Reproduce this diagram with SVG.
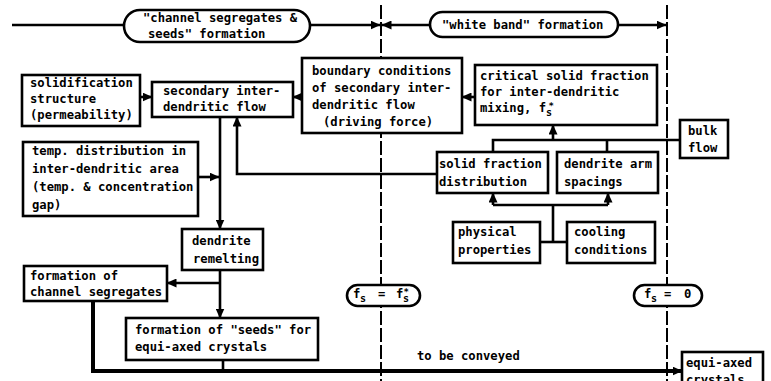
<svg xmlns="http://www.w3.org/2000/svg" width="771" height="381" viewBox="0 0 771 381">
<defs>
<marker id="arr" markerUnits="userSpaceOnUse" markerWidth="10" markerHeight="9" refX="9.5" refY="4.5" orient="auto"><path d="M0,0 L10,4.5 L0,9 z" fill="#000"/></marker>
</defs>
<style>
.box{fill:#fff;stroke:#000;stroke-width:2.6}
.t{font-family:"DejaVu Sans Mono","Liberation Mono",monospace;font-size:12.2px;font-weight:bold;fill:#000}
.sub{font-size:10px}
.star{font-size:9px}
.c{fill:none;stroke:#000;stroke-width:2.6}
.a{marker-end:url(#arr)}
.d{fill:none;stroke:#000;stroke-width:2;stroke-dasharray:14 3}
.thick{stroke-width:4}
</style>
<rect width="771" height="381" fill="#fff"/>
<g id="connectors">
<path class="d" d="M381,5 V381"/>
<path class="d" d="M667,5 V381"/>
<path class="c" d="M12,25 H124"/>
<path class="c a" d="M310,25 H380"/>
<path class="c a" d="M430,25 H382"/>
<path class="c a" d="M618,25 H666"/>
<path class="c a" d="M140,97 H152"/>
<path class="c a" d="M302,97 H293"/>
<path class="c a" d="M475,97 H462"/>
<path class="c a" d="M220,117 V229"/>
<path class="c a" d="M198,177 H219"/>
<path class="c a" d="M437,174 H237 V117"/>
<path class="c a" d="M220,270 V318"/>
<path class="c a" d="M220,283 H167"/>
<path class="c thick a" d="M93,301 V371 H682"/>
<path class="c" d="M223,360 V371"/>
<path class="c" d="M493,152 V140 H680"/>
<path class="c" d="M607,152 V140"/>
<path class="c a" d="M553,140 V125"/>
<path class="c" d="M540,242 H567"/>
<path class="c" d="M553,242 V205"/>
<path class="c" d="M493,205 H608"/>
<path class="c a" d="M493,205 V193"/>
<path class="c a" d="M608,205 V193"/>
</g>
<g id="pill-channel">
<rect class="box" x="124" y="10" width="186" height="32" rx="16"/>
<text class="t" x="143" y="22">"channel segregates &amp;</text>
<text class="t" x="148" y="38">seeds" formation</text>
</g>
<g id="pill-white">
<rect class="box" x="430" y="12" width="188" height="25" rx="12.5"/>
<text class="t" x="442" y="29">"white band" formation</text>
</g>
<g id="solidification">
<rect class="box" x="22" y="75" width="118" height="51"/>
<text class="t" x="30" y="87">solidification</text>
<text class="t" x="30" y="103">structure</text>
<text class="t" x="30" y="119">(permeability)</text>
</g>
<g id="secondary-flow">
<rect class="box" x="152" y="82" width="141" height="35"/>
<text class="t" x="163" y="95">secondary inter-</text>
<text class="t" x="163" y="111">dendritic flow</text>
</g>
<g id="boundary">
<rect class="box" x="302" y="58" width="160" height="75"/>
<text class="t" x="312" y="75">boundary conditions</text>
<text class="t" x="312" y="92">of secondary inter-</text>
<text class="t" x="312" y="109">dendritic flow</text>
<text class="t" x="323" y="126">(driving force)</text>
</g>
<g id="critical">
<rect class="box" x="475" y="65" width="182" height="60"/>
<text class="t" x="480" y="80">critical solid fraction</text>
<text class="t" x="480" y="96">for inter-dendritic</text>
<text class="t" x="480" y="112">mixing, f<tspan class="sub" dy="4">s</tspan><tspan class="star" x="548.5" y="109">*</tspan></text>
</g>
<g id="bulk-flow">
<rect class="box" x="680" y="120" width="48" height="38"/>
<text class="t" x="688" y="135">bulk</text>
<text class="t" x="688" y="152">flow</text>
</g>
<g id="solid-fraction">
<rect class="box" x="437" y="152" width="111" height="41"/>
<text class="t" x="439" y="168">solid fraction</text>
<text class="t" x="439" y="186">distribution</text>
</g>
<g id="arm-spacings">
<rect class="box" x="557" y="152" width="101" height="41"/>
<text class="t" x="564" y="168">dendrite arm</text>
<text class="t" x="564" y="186">spacings</text>
</g>
<g id="physical">
<rect class="box" x="453" y="222" width="87" height="41"/>
<text class="t" x="458" y="236">physical</text>
<text class="t" x="458" y="254">properties</text>
</g>
<g id="cooling">
<rect class="box" x="567" y="222" width="88" height="41"/>
<text class="t" x="574" y="236">cooling</text>
<text class="t" x="574" y="254">conditions</text>
</g>
<g id="temp-distribution">
<rect class="box" x="23" y="142" width="175" height="74"/>
<text class="t" x="32" y="155">temp. distribution in</text>
<text class="t" x="32" y="173">inter-dendritic area</text>
<text class="t" x="32" y="191">(temp. &amp; concentration</text>
<text class="t" x="32" y="209">gap)</text>
</g>
<g id="remelting">
<rect class="box" x="182" y="229" width="81" height="41"/>
<text class="t" x="192" y="245">dendrite</text>
<text class="t" x="193" y="263">remelting</text>
</g>
<g id="channel-segregates">
<rect class="box" x="24" y="266" width="143" height="35"/>
<text class="t" x="30" y="280">formation of</text>
<text class="t" x="30" y="296">channel segregates</text>
</g>
<g id="seeds">
<rect class="box" x="126" y="318" width="192" height="42"/>
<text class="t" x="135" y="334">formation of "seeds" for</text>
<text class="t" x="135" y="351">equi-axed crystals</text>
</g>
<g id="fs-star">
<rect class="box" x="347" y="285" width="73" height="21" rx="10.5"/>
<text class="t" x="353" y="298">f<tspan class="sub" x="360" y="302">s</tspan><tspan x="378" y="298">=</tspan><tspan x="396" y="298">f</tspan><tspan class="sub" x="403" y="302">s</tspan><tspan class="star" x="403.5" y="295">*</tspan></text>
</g>
<g id="fs-zero">
<rect class="box" x="634" y="285" width="68" height="21" rx="10.5"/>
<text class="t" x="644" y="298">f<tspan class="sub" x="651" y="302">s</tspan><tspan x="664" y="298">=</tspan><tspan x="684" y="298">0</tspan></text>
</g>
<g id="conveyed-label">
<text class="t" x="417" y="360">to be conveyed</text>
</g>
<g id="equiaxed">
<rect class="box" x="682" y="352" width="81" height="42"/>
<text class="t" x="686" y="367">equi-axed</text>
<text class="t" x="686" y="384">crystals</text>
</g>
</svg>
